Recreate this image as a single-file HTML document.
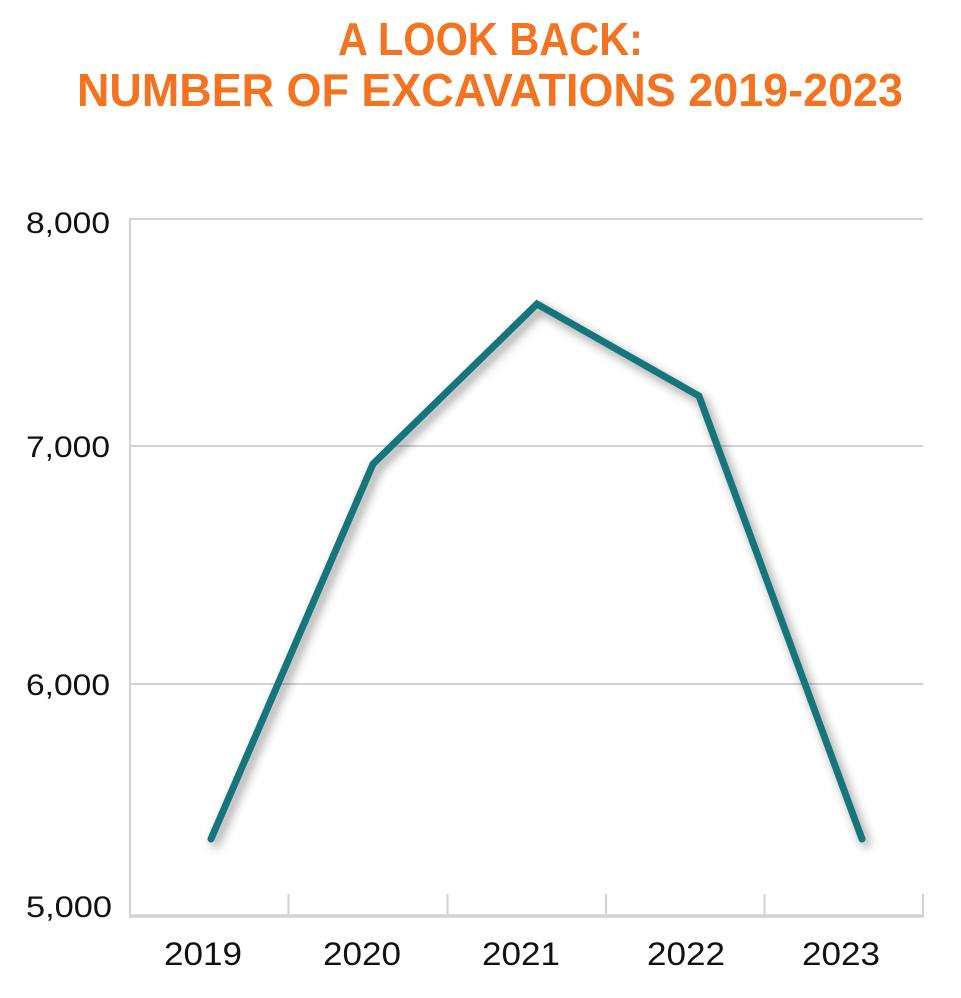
<!DOCTYPE html>
<html>
<head>
<meta charset="utf-8">
<style>
  html, body { margin: 0; padding: 0; background: #ffffff; }
  body { width: 961px; height: 998px; overflow: hidden; }
  svg { display: block; }
</style>
</head>
<body>
<svg width="961" height="998" viewBox="0 0 961 998" xmlns="http://www.w3.org/2000/svg">
  <defs>
    <filter id="sh" x="-20%" y="-20%" width="140%" height="140%">
      <feDropShadow dx="4" dy="5" stdDeviation="5" flood-color="#000000" flood-opacity="0.42"/>
    </filter>
  </defs>

  <!-- Title -->
  <g font-family="'Liberation Sans', sans-serif" font-weight="bold" font-size="46" fill="#f47321">
    <text x="338" y="55" textLength="305" lengthAdjust="spacingAndGlyphs">A LOOK BACK:</text>
    <text x="77" y="106" textLength="826" lengthAdjust="spacingAndGlyphs">NUMBER OF EXCAVATIONS 2019-2023</text>
  </g>

  <!-- Gridlines -->
  <g stroke="#d2d2d4" stroke-width="2" fill="none">
    <line x1="130" y1="219" x2="923" y2="219"/>
    <line x1="130" y1="446" x2="923" y2="446"/>
    <line x1="130" y1="684" x2="923" y2="684"/>
    <!-- y axis -->
    <line x1="130" y1="218" x2="130" y2="917"/>
  </g>
  <!-- x axis -->
  <g stroke="#d2d2d4" fill="none">
    <line x1="129" y1="916" x2="924" y2="916" stroke-width="3.5"/>
    <line x1="130" y1="894" x2="130" y2="916" stroke-width="2"/>
    <line x1="288.5" y1="894" x2="288.5" y2="916" stroke-width="2"/>
    <line x1="447.5" y1="894" x2="447.5" y2="916" stroke-width="2"/>
    <line x1="606" y1="894" x2="606" y2="916" stroke-width="2"/>
    <line x1="764.5" y1="894" x2="764.5" y2="916" stroke-width="2"/>
    <line x1="923" y1="894" x2="923" y2="916" stroke-width="2"/>
  </g>

  <!-- Y labels -->
  <g font-family="'Liberation Sans', sans-serif" font-size="30" fill="#111111">
    <text x="26" y="233" textLength="84" lengthAdjust="spacingAndGlyphs">8,000</text>
    <text x="26" y="457" textLength="84" lengthAdjust="spacingAndGlyphs">7,000</text>
    <text x="26" y="695" textLength="84" lengthAdjust="spacingAndGlyphs">6,000</text>
    <text x="26" y="917" textLength="86" lengthAdjust="spacingAndGlyphs">5,000</text>
  </g>

  <!-- X labels -->
  <g font-family="'Liberation Sans', sans-serif" font-size="32" fill="#111111">
    <text x="164" y="965" textLength="78" lengthAdjust="spacingAndGlyphs">2019</text>
    <text x="323" y="965" textLength="78" lengthAdjust="spacingAndGlyphs">2020</text>
    <text x="482" y="965" textLength="78" lengthAdjust="spacingAndGlyphs">2021</text>
    <text x="647" y="965" textLength="78" lengthAdjust="spacingAndGlyphs">2022</text>
    <text x="802" y="965" textLength="78" lengthAdjust="spacingAndGlyphs">2023</text>
  </g>

  <!-- Data line -->
  <polyline points="211,839 373,464 537,304 699,396 862,839"
            fill="none" stroke="#15757c" stroke-width="7"
            stroke-linecap="round" stroke-linejoin="miter" filter="url(#sh)"/>
</svg>
</body>
</html>
